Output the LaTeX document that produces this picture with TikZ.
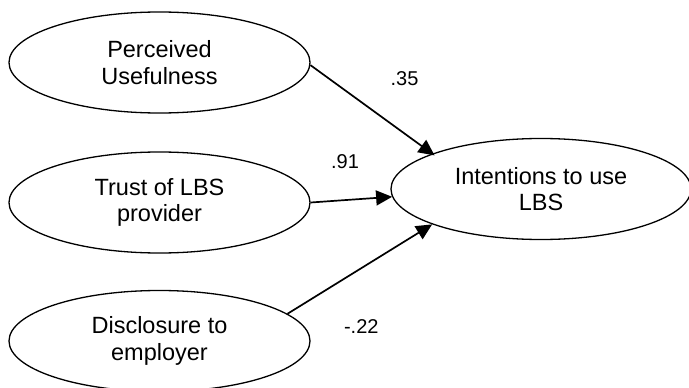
\documentclass[tikz,border=0pt]{standalone}
\usepackage{fontspec}
\setmainfont{Liberation Sans}
\usetikzlibrary{shapes.geometric,arrows.meta}
\begin{document}
\begin{tikzpicture}[x=1pt,y=-1pt,
  latent/.style={ellipse,draw,line width=1.3pt,minimum width=301pt,minimum height=101pt,inner sep=0pt,align=center,font=\fontsize{23.5}{26.8}\selectfont},
  path/.style={line width=1.7pt,-{Triangle[length=16pt,width=15pt]}},
  coef/.style={inner sep=0pt,font=\fontsize{20}{24}\selectfont}]
\useasboundingbox (0,0) rectangle (689,388);
\node[latent] (pu) at (159.5,62.5) {Perceived\\Usefulness};
\node[latent] (tr) at (159.5,202.5) {Trust of LBS\\provider};
\node[latent] (de) at (159.5,341) {Disclosure to\\employer};
\node[latent,minimum width=300pt] (iu) at (541,189) {Intentions to use\\LBS};
\draw[path,shorten >=-3pt] (pu.-1.6) -- (iu.162);
\draw[path] (tr.east) -- (iu.183);
\draw[path] (de.12) -- (iu.198);
\node[coef] (c1) at (404.5,78.3) {.35};
\node[coef] (c2) at (345,161.2) {.91};
\node[coef] (c3) at (361.3,327) {-.22};
\end{tikzpicture}
\end{document}
